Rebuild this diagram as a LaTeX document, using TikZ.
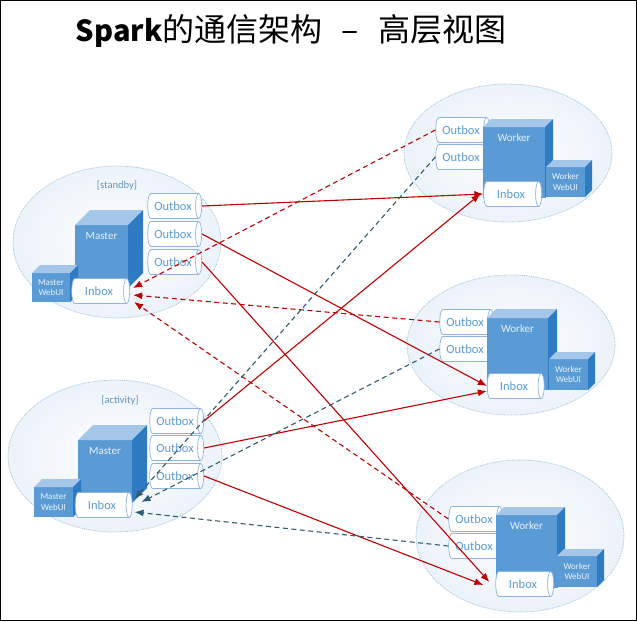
\documentclass[tikz,border=0pt]{standalone}
\usepackage{fontspec}
\setmainfont{Carlito}
\newfontfamily\cjk{Noto Sans CJK SC}
\usetikzlibrary{positioning,shapes.geometric,arrows.meta}
\definecolor{boxblue}{HTML}{5B9BD5}
\definecolor{boxtop}{HTML}{A4C6E9}
\definecolor{boxside}{HTML}{2F7BC3}
\definecolor{pipeline}{HTML}{8DB3DE}
\definecolor{pipetext}{HTML}{5B9BD5}
\definecolor{zoneline}{HTML}{9DC0E2}
\definecolor{msgred}{HTML}{C00000}
\definecolor{msgteal}{HTML}{2F5D6F}

\begin{document}
\begin{tikzpicture}[x=1pt,y=-1pt,
  zone/.style={ellipse,draw=zoneline,densely dotted,line width=0.8pt,inner color=white,outer color=zoneline!20},
  pipe/.style={cylinder,draw=pipeline,fill=white,text=pipetext,line width=0.7pt,aspect=0.7,minimum height=54pt,minimum width=25pt,inner sep=0pt,font=\fontsize{12.5}{13}\selectfont},
  cube/.style={rectangle,fill=boxblue,anchor=north west,inner sep=0pt,outer sep=0pt,text=white!88!boxblue},
  cubelbl/.style={anchor=north,yshift=-6pt,inner sep=1pt,text=white!85!boxblue,font=\fontsize{11}{12}\selectfont},
  tag/.style={text=pipetext!70!gray,font=\fontsize{10.5}{11}\selectfont},
  req/.style={draw=msgred,line width=1.1pt,-{Latex[length=9pt,width=7pt]}},
  beat/.style={draw=msgred,line width=1.1pt,dash pattern=on 5pt off 3.5pt,-{Latex[length=9pt,width=7pt]}},
  ack/.style={draw=msgteal,line width=1.1pt,dash pattern=on 5pt off 3.5pt,-{Latex[length=9pt,width=7pt]}}]
  \useasboundingbox (0,0) rectangle (637,621);
  \draw[line width=1pt] (0.5,0.5) rectangle (636.5,620.5);
  \node[inner sep=0pt] (title) at (291,31) {\cjk\fontsize{29}{32}\selectfont\bfseries Spark\mdseries\fontsize{32}{34}\selectfont 的通信架构\hspace{0.6em}–\hspace{0.6em}高层视图};

  \node[zone,minimum width=208pt,minimum height=152pt] (m1e) at (117,242) {};
  \node[zone,minimum width=214pt,minimum height=152pt] (m2e) at (115,456) {};
  \node[zone,minimum width=208pt,minimum height=138pt] (w1e) at (508,153) {};
  \node[zone,minimum width=208pt,minimum height=140pt] (w2e) at (511,345) {};
  \node[zone,minimum width=208pt,minimum height=152pt] (w3e) at (520,536) {};
  \node[tag] (stb) at (117,186) {[standby]};
  \node[tag] (act) at (120,401) {[activity]};

  \node[pipe] (m1o1) at (173,206) {Outbox};
  \node[pipe] (m1o2) at (173,234) {Outbox};
  \node[pipe] (m1o3) at (173,262) {Outbox};
  \node[pipe] (m2o1) at (175,421) {Outbox};
  \node[pipe] (m2o2) at (175,448) {Outbox};
  \node[pipe] (m2o3) at (175,476) {Outbox};
  \node[pipe] (w1o1) at (461,130) {Outbox};
  \node[pipe] (w1o2) at (461,157) {Outbox};
  \node[pipe] (w2o1) at (465,322) {Outbox};
  \node[pipe] (w2o2) at (465,349) {Outbox};
  \node[pipe] (w3o1) at (474,519) {Outbox};
  \node[pipe] (w3o2) at (474,546) {Outbox};

  \foreach \n/\x/\y/\w/\h/\d/\t in {m1/75/225/53/63/15/Master,m2/78/440/54/63/15/Master,
      w1/483/127/62/71/8/Worker,w2/487/318/61/72/9/Worker,w3/496/515/61/73/8/Worker}{
    \node[cube,minimum width=\w pt,minimum height=\h pt,label={[cubelbl]north:\t}] (\n) at (\x,\y) {};
    \fill[boxtop] (\n.north west) -- ++(\d,-\d) -- ++(\w,0) -- (\n.north east) -- cycle;
    \fill[boxside] (\n.north east) -- ++(\d,-\d) -- ++(0,\h) -- (\n.south east) -- cycle;
  }
  \foreach \n/\x/\y/\w/\h/\d/\t in {m1w/32/273/38/29/8/Master,m2w/34/487/39/30/8/Master,
      w1w/546/167/39/30/7/Worker,w2w/549/359/39/31/7/Worker,w3w/557/556/40/31/7/Worker}{
    \node[cube,minimum width=\w pt,minimum height=\h pt,align=center,font=\fontsize{9}{10.5}\selectfont] (\n) at (\x,\y) {\t\\WebUI};
    \fill[boxtop] (\n.north west) -- ++(\d,-\d) -- ++(\w,0) -- (\n.north east) -- cycle;
    \fill[boxside] (\n.north east) -- ++(\d,-\d) -- ++(0,\h) -- (\n.south east) -- cycle;
  }

  \node[pipe,minimum height=58pt] (m1i) at (99,291) {Inbox};
  \node[pipe,minimum height=57pt] (m2i) at (102,505) {Inbox};
  \node[pipe,minimum height=58pt] (w1i) at (511,194) {Inbox};
  \node[pipe,minimum height=57pt] (w2i) at (514,386) {Inbox};
  \node[pipe,minimum height=58pt] (w3i) at (523,584) {Inbox};

  \draw[req] (m1o1.east) -- (w1i.west);
  \draw[req] (m1o2.east) -- (w2i.west);
  \draw[req] (m1o3.east) -- ([xshift=-6pt,yshift=2pt]w3i.west);
  \draw[req] (m2o1.east) -- ([xshift=-3pt]w1i.west);
  \draw[req] (m2o2.east) -- ([yshift=-5pt]w2i.west);
  \draw[req] (m2o3.east) -- ([xshift=-12pt,yshift=-1pt]w3i.west);

  \draw[beat] (w1o1.west) -- ([xshift=3pt,yshift=3pt]m1i.east);
  \draw[beat] (w2o1.west) -- ([xshift=3pt,yshift=-4pt]m1i.east);
  \draw[beat] (w3o1.west) -- ([xshift=4pt,yshift=-11pt]m1i.east);
  \draw[ack] (w1o2.west) -- ([xshift=2pt,yshift=6pt]m2i.east);
  \draw[ack] (w2o2.west) -- ([xshift=9pt,yshift=3pt]m2i.east);
  \draw[ack] (w3o2.west) -- ([xshift=2pt,yshift=-7pt]m2i.east);
\end{tikzpicture}
\end{document}
